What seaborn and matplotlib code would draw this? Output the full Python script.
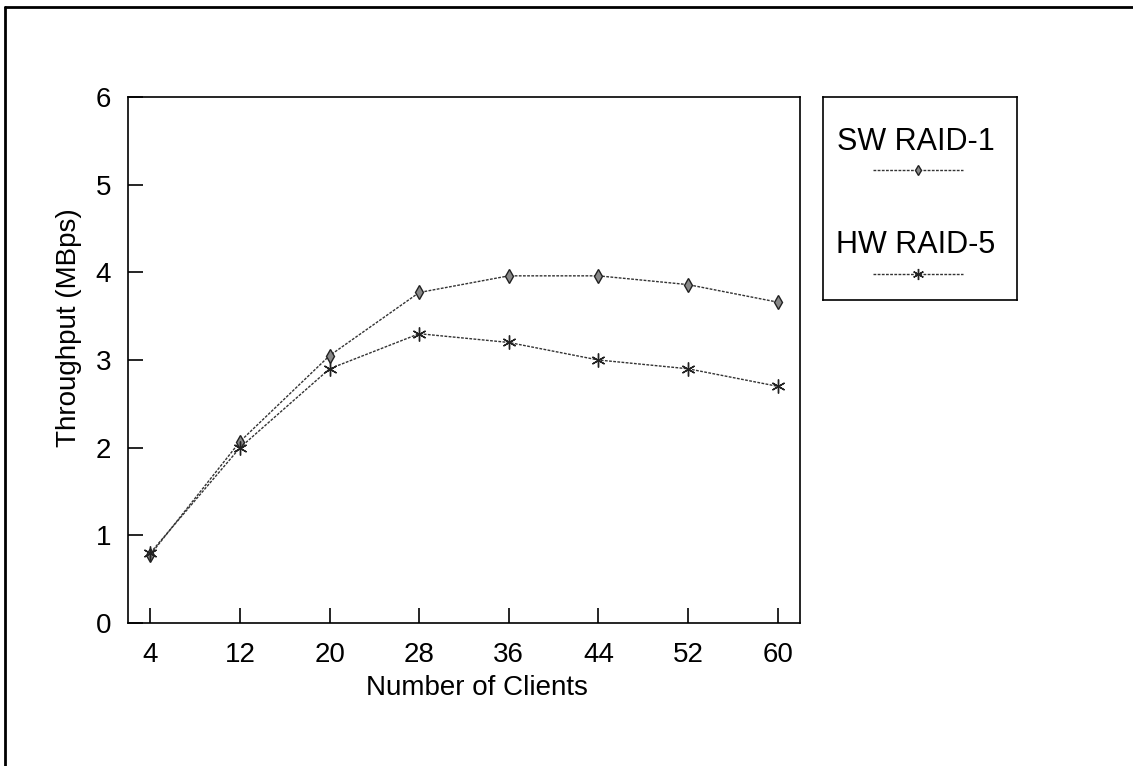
import pandas as pd
import seaborn as sns
import matplotlib.pyplot as plt
from matplotlib.lines import Line2D

# Values
clients = [4, 12, 20, 28, 36, 44, 52, 60]
sw_raid1 = [0.78, 2.07, 3.05, 3.77, 3.96, 3.96, 3.86, 3.66]
hw_raid5 = [0.80, 2.00, 2.90, 3.30, 3.20, 3.00, 2.90, 2.70]
series_names = ['SW RAID-1', 'HW RAID-5']
series_markers = ['d', (6, 2, 0)]
series_msize = [7, 10]

df = pd.DataFrame({
    'clients': clients * 2,
    'throughput': sw_raid1 + hw_raid5,
    'series': [series_names[0]] * len(clients) + [series_names[1]] * len(clients),
})

sns.set_style('white')
plt.rcParams['font.family'] = ['Liberation Sans', 'DejaVu Sans']
plt.rcParams['text.color'] = 'black'
plt.rcParams['axes.labelcolor'] = 'black'

fig = plt.figure(figsize=(11.33, 7.66), dpi=100)
ax = fig.add_axes([128 / 1133, 1 - 623 / 766, 672 / 1133, 526 / 766])

# one call per series (filled diamond and line-art asterisk can't be mixed in one call)
for name, mk, ms in zip(series_names, series_markers, series_msize):
    sub = df[df['series'] == name]
    sns.lineplot(data=sub, x='clients', y='throughput', color='#333333',
                 marker=mk, linestyle=(0, (2, 1)), linewidth=1.0, markersize=ms,
                 markerfacecolor='#888888', markeredgewidth=1.0, markeredgecolor='#222222', ax=ax)

ax.set_xlim(2, 62)
ax.set_ylim(0, 6)
ax.set_xticks(clients)
ax.set_yticks(range(0, 7))
ax.tick_params(bottom=True, left=True, direction='in', length=11, width=1.2,
               labelsize=20, colors='black')
ax.tick_params(axis='y', pad=12)
ax.tick_params(axis='x', pad=14)
for s in ax.spines.values():
    s.set_color('black')
    s.set_linewidth(1.2)
ax.set_xlabel('Number of Clients', fontsize=20)
ax.set_ylabel('Throughput (MBps)', fontsize=20)
ax.xaxis.set_label_coords(0.519, -0.098)
ax.yaxis.set_label_coords(-0.068, 0.561)

# legend box drawn like the original: labels above short sample lines
leg_ax = fig.add_axes([823 / 1133, 1 - 300 / 766, 194 / 1133, 203 / 766])
leg_ax.set_xlim(0, 1)
leg_ax.set_ylim(0, 1)
leg_ax.set_xticks([])
leg_ax.set_yticks([])
for s in leg_ax.spines.values():
    s.set_color('black')
    s.set_linewidth(1.2)
for i, (name, mk, ms) in enumerate(zip(series_names, series_markers, series_msize)):
    ty = 0.78 - i * 0.51
    leg_ax.text(0.48, ty, name, ha='center', va='center', fontsize=22)
    ly = ty - 0.14
    leg_ax.plot([0.26, 0.72], [ly, ly], color='#333333', linestyle=(0, (2, 1)), linewidth=1.0)
    leg_ax.plot([0.49], [ly], color='#222222', marker=mk, markersize=ms - 2,
                markerfacecolor='#888888', linestyle='none')

# partial outer frame: left and top edges
fig.add_artist(Line2D([5 / 1133, 5 / 1133], [0, 1 - 7 / 766], transform=fig.transFigure,
                      color='black', linewidth=2))
fig.add_artist(Line2D([5 / 1133, 1], [1 - 7 / 766, 1 - 7 / 766], transform=fig.transFigure,
                      color='black', linewidth=2))

fig.savefig('out.png', dpi=100, facecolor='white')
